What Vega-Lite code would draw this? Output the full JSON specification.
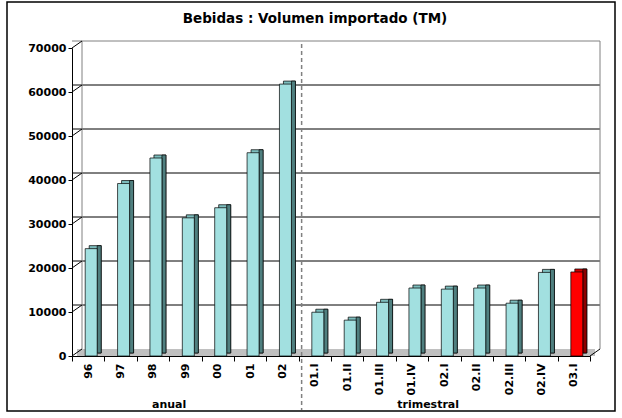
{
  "$schema": "https://vega.github.io/schema/vega-lite/v6.json",
  "width": 518,
  "height": 308,
  "autosize": {"type": "none"},
  "padding": {"left": 72, "top": 48, "right": 32, "bottom": 62},
  "background": "white",
  "title": {"text": "Bebidas :  Volumen importado (TM)", "anchor": "middle", "dx": -16, "offset": -24, "font": "DejaVu Sans", "fontSize": 13.5, "fontWeight": "bold", "color": "black"},
  "datasets": {
    "bebidas": [
      {"periodo": "96", "volumen": 24400},
      {"periodo": "97", "volumen": 39200},
      {"periodo": "98", "volumen": 45000},
      {"periodo": "99", "volumen": 31400},
      {"periodo": "00", "volumen": 33700},
      {"periodo": "01", "volumen": 46200},
      {"periodo": "02", "volumen": 61800},
      {"periodo": "01.I", "volumen": 9950},
      {"periodo": "01.II", "volumen": 8150},
      {"periodo": "01.III", "volumen": 12200},
      {"periodo": "01.IV", "volumen": 15450},
      {"periodo": "02.I", "volumen": 15200},
      {"periodo": "02.II", "volumen": 15450},
      {"periodo": "02.III", "volumen": 12000},
      {"periodo": "02.IV", "volumen": 19000},
      {"periodo": "03.I", "volumen": 19100}
    ],
    "ticks": [{"v": 0}, {"v": 10000}, {"v": 20000}, {"v": 30000}, {"v": 40000}, {"v": 50000}, {"v": 60000}, {"v": 70000}],
    "grid": [{"v": 10000}, {"v": 20000}, {"v": 30000}, {"v": 40000}, {"v": 50000}, {"v": 60000}]
  },
  "data": {"name": "bebidas"},
  "layer": [
    {
      "mark": {"type": "bar", "width": 12, "xOffset": 3, "opacity": 0},
      "encoding": {
        "x": {
          "field": "periodo", "type": "nominal", "sort": null, "title": null,
          "scale": {"type": "band", "domain": ["96", "97", "98", "99", "00", "01", "02", "01.I", "01.II", "01.III", "01.IV", "02.I", "02.II", "02.III", "02.IV", "03.I"], "paddingInner": 0, "paddingOuter": 0},
          "axis": {"title": null, "labelAngle": -90, "tickBand": "extent", "labelFont": "DejaVu Sans", "labelFontSize": 11, "labelFontWeight": "bold", "labelColor": "black", "tickColor": "black", "tickSize": 5, "domainColor": "black", "domainWidth": 1, "labelPadding": 2}
        },
        "y": {
          "field": "volumen", "type": "quantitative", "title": null,
          "scale": {"domain": [0, 70000], "nice": false},
          "axis": {"title": null, "format": "d", "values": [0, 10000, 20000, 30000, 40000, 50000, 60000, 70000], "grid": false, "labelFont": "DejaVu Sans", "labelFontSize": 11, "labelFontWeight": "bold", "labelColor": "black", "tickColor": "black", "tickSize": 4, "domainColor": "black", "domainWidth": 1, "labelPadding": 2}
        }
      }
    },
    {
      "data": {"values": [{}]},
      "mark": {"type": "rect", "fillOpacity": 0, "stroke": "black", "strokeWidth": 1.5, "xOffset": -65, "x2Offset": 25, "yOffset": -46, "y2Offset": 55},
      "encoding": {
        "x": {"datum": "96", "bandPosition": 0, "title": null},
        "x2": {"datum": "03.I", "bandPosition": 1},
        "y": {"datum": 70000, "type": "quantitative", "title": null},
        "y2": {"datum": 0}
      }
    },
    {
      "data": {"name": "grid"},
      "mark": {"type": "rule", "color": "black", "strokeWidth": 1, "xOffset": 10, "yOffset": -7},
      "encoding": {"y": {"field": "v", "type": "quantitative", "title": null}}
    },
    {
      "data": {"values": [{}]},
      "mark": {"type": "rule", "color": "#808080", "strokeWidth": 1, "xOffset": 10, "yOffset": -7},
      "encoding": {"y": {"datum": 70000, "type": "quantitative", "title": null}}
    },
    {
      "data": {"values": [{}]},
      "mark": {"type": "rule", "color": "#808080", "strokeWidth": 1, "xOffset": 10, "yOffset": -7, "y2Offset": -7},
      "encoding": {
        "x": {"datum": "96", "bandPosition": 0, "title": null},
        "y": {"datum": 0, "type": "quantitative", "title": null},
        "y2": {"datum": 70000}
      }
    },
    {
      "data": {"values": [{}]},
      "mark": {"type": "rule", "color": "#808080", "strokeWidth": 1, "xOffset": 10, "yOffset": -7, "y2Offset": -7},
      "encoding": {
        "x": {"datum": "03.I", "bandPosition": 1, "title": null},
        "y": {"datum": 0, "type": "quantitative", "title": null},
        "y2": {"datum": 70000}
      }
    },
    {
      "data": {"values": [{}]},
      "mark": {"type": "rect", "color": "#C0C0C0", "xOffset": 5, "x2Offset": 5, "y2Offset": -7},
      "encoding": {
        "x": {"datum": "96", "bandPosition": 0, "title": null},
        "x2": {"datum": "03.I", "bandPosition": 1},
        "y": {"datum": 0, "type": "quantitative", "title": null},
        "y2": {"datum": 0}
      }
    },
    {
      "data": {"name": "ticks"},
      "mark": {"type": "rule", "color": "black", "strokeWidth": 1, "x2Offset": 10, "y2Offset": -7},
      "encoding": {
        "x": {"datum": "96", "bandPosition": 0, "title": null},
        "x2": {"datum": "96", "bandPosition": 0},
        "y": {"field": "v", "type": "quantitative", "title": null},
        "y2": {"field": "v"}
      }
    },
    {
      "data": {"values": [{}]},
      "mark": {"type": "rule", "color": "black", "strokeWidth": 1, "x2Offset": 10, "y2Offset": -7},
      "encoding": {
        "x": {"datum": "03.I", "bandPosition": 1, "title": null},
        "x2": {"datum": "03.I", "bandPosition": 1},
        "y": {"datum": 0, "type": "quantitative", "title": null},
        "y2": {"datum": 0}
      }
    },
    {
      "data": {"values": [{}]},
      "mark": {"type": "rule", "color": "#808080", "strokeWidth": 1.5, "strokeDash": [4, 3], "xOffset": 3, "yOffset": -4, "y2Offset": 54},
      "encoding": {
        "x": {"datum": "01.I", "bandPosition": 0, "title": null},
        "y": {"datum": 70000, "type": "quantitative", "title": null},
        "y2": {"datum": 0}
      }
    },
    {
      "mark": {"type": "bar", "width": 12, "xOffset": 7, "yOffset": -3, "y2Offset": -3, "stroke": "black", "strokeWidth": 0.7},
      "encoding": {
        "x": {"field": "periodo", "type": "nominal", "sort": null, "title": null},
        "y": {"field": "volumen", "type": "quantitative", "title": null},
        "color": {"condition": {"test": "datum.periodo === '03.I'", "value": "#C80000"}, "value": "#7CBDBD"}
      }
    },
    {
      "mark": {"type": "bar", "width": 4, "xOffset": 11, "yOffset": -3, "y2Offset": -3, "stroke": "black", "strokeWidth": 0.7},
      "encoding": {
        "x": {"field": "periodo", "type": "nominal", "sort": null, "title": null},
        "y": {"field": "volumen", "type": "quantitative", "title": null},
        "color": {"condition": {"test": "datum.periodo === '03.I'", "value": "#8C0000"}, "value": "#4F7F7F"}
      }
    },
    {
      "mark": {"type": "bar", "width": 12, "xOffset": 3, "stroke": "black", "strokeWidth": 0.7},
      "encoding": {
        "x": {"field": "periodo", "type": "nominal", "sort": null, "title": null},
        "y": {"field": "volumen", "type": "quantitative", "title": null},
        "color": {"condition": {"test": "datum.periodo === '03.I'", "value": "#FF0000"}, "value": "#A2E0E0"}
      }
    },
    {
      "data": {"values": [{}]},
      "mark": {"type": "text", "text": "anual", "font": "DejaVu Sans", "fontSize": 11, "fontWeight": "bold", "color": "black", "align": "center", "baseline": "middle", "yOffset": 49},
      "encoding": {
        "x": {"datum": "99", "bandPosition": 0, "title": null},
        "y": {"datum": 0, "type": "quantitative", "title": null}
      }
    },
    {
      "data": {"values": [{}]},
      "mark": {"type": "text", "text": "trimestral", "font": "DejaVu Sans", "fontSize": 11, "fontWeight": "bold", "color": "black", "align": "center", "baseline": "middle", "yOffset": 49},
      "encoding": {
        "x": {"datum": "02.I", "bandPosition": 0, "title": null},
        "y": {"datum": 0, "type": "quantitative", "title": null}
      }
    }
  ],
  "config": {"view": {"stroke": null}}
}
